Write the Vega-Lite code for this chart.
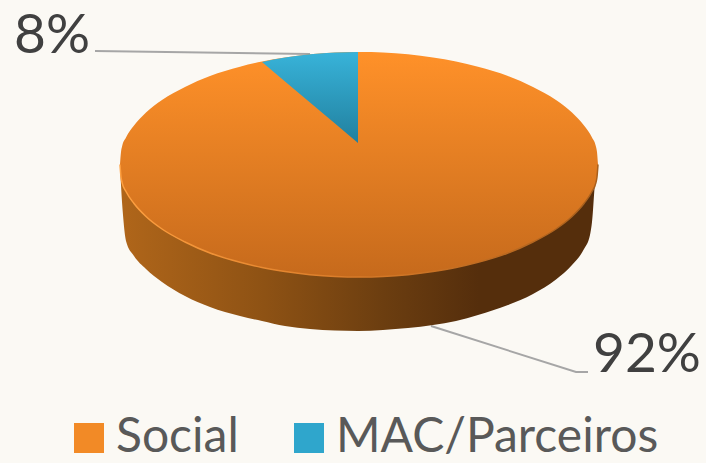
{
"$schema":"https://vega.github.io/schema/vega-lite/v6.json",
"width":706,"height":463,"autosize":"none","padding":0,
"background":"#fbf9f4",
"config":{"view":{"stroke":null}},
"datasets":{
"wall":[
{"x":120,"y":165,"y2":165},{"x":121,"y":165,"y2":185},{"x":123,"y":165,"y2":215},{"x":126,"y":165,"y2":241},{"x":134,"y":165,"y2":256},{"x":146,"y":165,"y2":269},{"x":162,"y":165,"y2":282},{"x":185,"y":165,"y2":296},{"x":210,"y":165,"y2":307},{"x":240,"y":165,"y2":316},{"x":262,"y":165,"y2":321},{"x":285,"y":165,"y2":326},{"x":310,"y":165,"y2":329},{"x":335,"y":165,"y2":330.5},{"x":358,"y":165,"y2":331},{"x":383,"y":165,"y2":330},{"x":408,"y":165,"y2":328},{"x":433,"y":165,"y2":325},{"x":456,"y":165,"y2":321},{"x":478,"y":165,"y2":315},{"x":508,"y":165,"y2":305},{"x":533,"y":165,"y2":294},{"x":556,"y":165,"y2":279.5},{"x":572,"y":165,"y2":265},{"x":584,"y":165,"y2":249},{"x":590,"y":165,"y2":235},{"x":592,"y":165,"y2":222},{"x":595,"y":165,"y2":183},{"x":598,"y":165,"y2":165}
],
"social":[
{"part":"Social","x":120,"y":164.5,"y2":164.5},{"part":"Social","x":121,"y":152,"y2":177},{"part":"Social","x":122,"y":146.7,"y2":182.3},{"part":"Social","x":126,"y":137.5,"y2":191.5},{"part":"Social","x":134,"y":125.5,"y2":203.5},{"part":"Social","x":146,"y":112.5,"y2":216.5},{"part":"Social","x":162,"y":100,"y2":229},{"part":"Social","x":185,"y":87,"y2":242},{"part":"Social","x":210,"y":76,"y2":253},{"part":"Social","x":240,"y":66.7,"y2":262.3},{"part":"Social","x":262,"y":61.5,"y2":267.5},{"part":"Social","x":285,"y":57.5,"y2":271.5},{"part":"Social","x":310,"y":54.3,"y2":274.7},{"part":"Social","x":335,"y":52.5,"y2":276.5},{"part":"Social","x":360,"y":52,"y2":277},{"part":"Social","x":383,"y":52.5,"y2":276.5},{"part":"Social","x":408,"y":54.3,"y2":274.7},{"part":"Social","x":433,"y":57.5,"y2":271.5},{"part":"Social","x":456,"y":61.5,"y2":267.5},{"part":"Social","x":478,"y":66.7,"y2":262.3},{"part":"Social","x":508,"y":76,"y2":253},{"part":"Social","x":533,"y":87,"y2":242},{"part":"Social","x":556,"y":100,"y2":229},{"part":"Social","x":572,"y":112.5,"y2":216.5},{"part":"Social","x":584,"y":125.5,"y2":203.5},{"part":"Social","x":592,"y":137.5,"y2":191.5},{"part":"Social","x":596,"y":146.7,"y2":182.3},{"part":"Social","x":597,"y":152,"y2":177},{"part":"Social","x":598,"y":164.5,"y2":164.5}
],
"mac":[
{"part":"MAC/Parceiros","x":262,"y":62,"y2":62},{"part":"MAC/Parceiros","x":285,"y":57.5,"y2":81.4},{"part":"MAC/Parceiros","x":310,"y":54.3,"y2":102.5},{"part":"MAC/Parceiros","x":335,"y":52.5,"y2":123.6},{"part":"MAC/Parceiros","x":358,"y":52,"y2":143}
],
"leaders":[
{"part":"MAC/Parceiros","x":95,"y":51,"step":1},{"part":"MAC/Parceiros","x":310,"y":54,"step":2},
{"part":"Social","x":431,"y":326,"step":1},{"part":"Social","x":576,"y":372,"step":2},{"part":"Social","x":588,"y":372,"step":3}
],
"labels":[
{"part":"MAC/Parceiros","share":"8%","x":52,"y":53},
{"part":"Social","share":"92%","x":647,"y":372}
]
},
"layer":[
{"data":{"name":"leaders"},
 "mark":{"type":"line","stroke":"#a6a6a6","strokeWidth":2},
 "encoding":{"x":{"field":"x","type":"quantitative","scale":{"domain":[0,706],"nice":false,"zero":false},"axis":null},
 "y":{"field":"y","type":"quantitative","scale":{"domain":[463,0],"nice":false,"zero":false},"axis":null},"detail":{"field":"part"},"order":{"field":"step"}}},
{"data":{"name":"wall"},
 "mark":{"type":"area","interpolate":"monotone","fill":{"gradient":"linear","x1":0,"y1":0,"x2":1,"y2":0,"stops":[{"offset":0,"color":"#b0661a"},{"offset":0.3,"color":"#8e5214"},{"offset":0.55,"color":"#6c3e10"},{"offset":0.75,"color":"#552e0c"},{"offset":1,"color":"#552e0c"}]}},
 "encoding":{"x":{"field":"x","type":"quantitative"},"y":{"field":"y","type":"quantitative"},"y2":{"field":"y2"}}},
{"data":{"name":"labels"},
 "mark":{"type":"point","opacity":0},
 "encoding":{"x":{"field":"x","type":"quantitative"},"y":{"field":"y","type":"quantitative"},
 "fill":{"field":"part","type":"nominal",
  "scale":{"domain":["Social","MAC/Parceiros"],"range":["#f28a26","#2fa6cc"]},
  "legend":{"title":null,"orient":"none","legendX":65,"legendY":414,"direction":"horizontal","symbolType":"square","symbolSize":900,"symbolStrokeWidth":0,"symbolOpacity":1,"labelFont":"Lato","labelFontSize":48,"labelColor":"#595959","labelOffset":3,"columnPadding":46,"labelLimit":400,
   "encoding":{"symbols":{"update":{"fill":{"signal":"datum.value==='Social' ? {gradient:'linear',x1:0,y1:0,x2:0,y2:1,stops:[{offset:0,color:'#ffb04a'},{offset:0.5,color:'#f28a26'},{offset:1,color:'#a85a18'}]} : {gradient:'linear',x1:0,y1:0,x2:0,y2:1,stops:[{offset:0,color:'#66e0f5'},{offset:0.5,color:'#2fa6cc'},{offset:1,color:'#1c7a98'}]}"},"opacity":{"value":1}}}}}}}},
{"data":{"name":"social"},
 "mark":{"type":"area","interpolate":"monotone","fill":{"gradient":"linear","x1":0,"y1":0,"x2":0,"y2":1,"stops":[{"offset":0,"color":"#ff9129"},{"offset":1,"color":"#c66a1c"}]}},
 "encoding":{"x":{"field":"x","type":"quantitative"},"y":{"field":"y","type":"quantitative"},"y2":{"field":"y2"}}},
{"data":{"name":"social"},
 "mark":{"type":"line","interpolate":"monotone","strokeWidth":1.5,"stroke":{"gradient":"linear","x1":0,"y1":0,"x2":1,"y2":0,"stops":[{"offset":0,"color":"#ffa040"},{"offset":0.5,"color":"#d87a28"},{"offset":1,"color":"#a85f1c"}]}},
 "encoding":{"x":{"field":"x","type":"quantitative"},"y":{"field":"y2","type":"quantitative"}}},
{"data":{"name":"mac"},
 "mark":{"type":"area","interpolate":"monotone","fill":{"gradient":"linear","x1":0,"y1":0,"x2":0,"y2":1,"stops":[{"offset":0,"color":"#38b3d9"},{"offset":1,"color":"#21809f"}]}},
 "encoding":{"x":{"field":"x","type":"quantitative"},"y":{"field":"y","type":"quantitative"},"y2":{"field":"y2"}}},
{"data":{"name":"labels"},
 "mark":{"type":"text","font":"Lato","fontSize":55,"color":"#404040","baseline":"alphabetic","align":"center"},
 "encoding":{"x":{"field":"x","type":"quantitative"},"y":{"field":"y","type":"quantitative"},"text":{"field":"share"}}}
]
}
